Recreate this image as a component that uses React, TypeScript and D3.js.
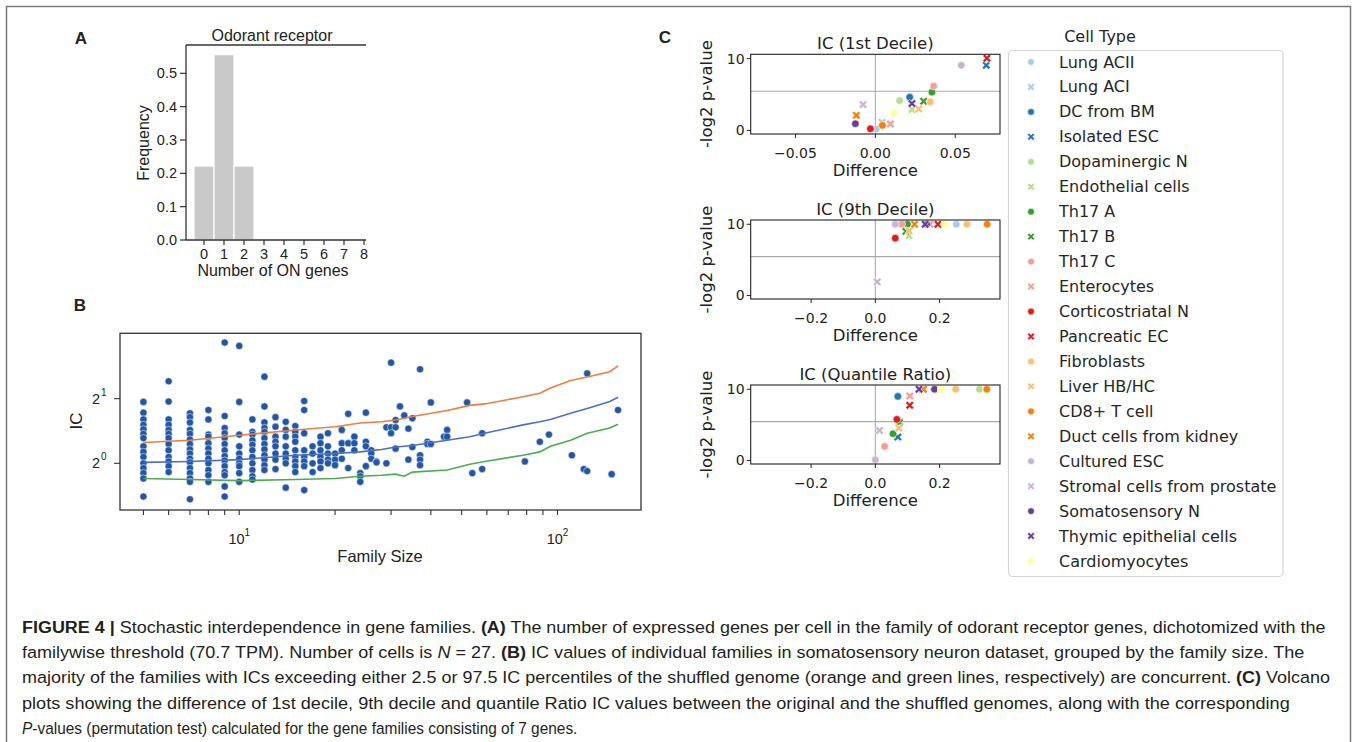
import React, { useLayoutEffect, useRef } from 'react';
import * as d3 from 'd3';

const W = 1357;
const H = 742;

// ---------------- Panel A data ----------------
const onGenes = [0, 1, 2, 3, 4, 5, 6, 7, 8];
const onFreq = [0.222, 0.556, 0.222, 0, 0, 0, 0, 0, 0];
const freqTicks = [0, 0.1, 0.2, 0.3, 0.4, 0.5];

// ---------------- Panel B data ----------------
const famSizes = [5, 6, 7, 8, 9, 10, 11, 12, 13, 14, 15, 16, 17, 18, 19, 20, 21, 22, 23, 24, 25, 26, 27, 29, 30, 31, 32, 33, 34, 35, 37, 39, 40, 44, 45, 52, 54, 58, 79, 88, 94, 111, 121, 124, 148, 155];
const famIC = [
  [1.93, 1.72, 1.6, 1.51, 1.44, 1.37, 1.31, 1.2, 1.13, 1.07, 1.0, 0.95, 0.9, 0.85, 0.7],
  [2.41, 1.94, 1.6, 1.51, 1.43, 1.37, 1.31, 1.23, 1.15, 1.07, 1.02, 0.97, 0.91],
  [1.71, 1.64, 1.55, 1.43, 1.37, 1.29, 1.23, 1.16, 1.11, 1.05, 1.01, 0.95, 0.9, 0.85, 0.82, 0.68],
  [1.77, 1.6, 1.36, 1.33, 1.24, 1.17, 1.11, 1.05, 1.0, 0.93, 0.88, 0.82],
  [3.65, 1.66, 1.46, 1.38, 1.31, 1.23, 1.15, 1.08, 1.03, 0.97, 0.91, 0.88, 0.78, 0.7],
  [3.52, 1.93, 1.36, 1.2, 1.11, 1.05, 1.0, 0.97, 0.9, 0.82],
  [1.6, 1.4, 1.36, 1.28, 1.22, 1.15, 1.07, 1.0, 0.93, 0.87, 0.84],
  [2.53, 1.84, 1.55, 1.46, 1.4, 1.31, 1.23, 1.16, 1.09, 1.04, 0.98, 0.93],
  [1.64, 1.48, 1.33, 1.26, 1.2, 1.11, 1.04, 0.94],
  [1.56, 1.43, 1.33, 1.2, 1.11, 1.05, 1.0, 0.77],
  [1.49, 1.4, 1.33, 1.26, 1.15, 1.07, 1.02, 0.97, 0.91],
  [1.95, 1.77, 1.38, 1.15, 1.07, 1.02, 0.97, 0.75],
  [1.2, 1.11, 1.0, 0.91],
  [1.33, 1.24, 1.15, 1.07, 1.02, 0.95],
  [1.38, 1.2, 1.11, 1.04, 1.0],
  [1.11, 1.04, 0.98],
  [1.43, 1.24, 1.15, 1.05],
  [1.7, 1.24, 0.95],
  [1.33, 1.24, 1.15],
  [0.9, 0.87, 0.82],
  [1.72, 1.26, 1.2, 0.97],
  [1.15, 1.11, 1.05],
  [1.02, 1.01],
  [1.47, 1.0],
  [2.94, 1.47, 1.38],
  [1.59, 1.47, 1.17],
  [1.84],
  [1.67],
  [1.45, 1.04],
  [1.62, 1.19],
  [2.74, 1.09, 1.04, 0.98],
  [1.26, 1.23],
  [1.92, 1.23],
  [1.33],
  [1.43, 1.33],
  [1.92],
  [0.9],
  [1.38, 0.94],
  [1.02],
  [1.26],
  [1.36],
  [1.09],
  [0.94],
  [2.62, 0.92],
  [0.89],
  [1.77],
];
const pctSizes = [5, 7, 10, 15, 20, 24, 28, 31, 33, 35, 45, 53, 59, 78, 88, 95, 110, 124, 146, 155];
const pct975 = [1.25, 1.28, 1.35, 1.43, 1.48, 1.54, 1.56, 1.59, 1.62, 1.65, 1.76, 1.86, 1.89, 2.04, 2.12, 2.24, 2.43, 2.52, 2.67, 2.84];
const pct50 = [1.01, 1.02, 1.04, 1.09, 1.11, 1.13, 1.16, 1.19, 1.2, 1.21, 1.28, 1.33, 1.38, 1.51, 1.56, 1.6, 1.71, 1.8, 1.94, 2.03];
const pct025 = [0.85, 0.84, 0.83, 0.84, 0.85, 0.87, 0.88, 0.89, 0.87, 0.91, 0.93, 0.99, 1.02, 1.09, 1.13, 1.2, 1.28, 1.38, 1.46, 1.52];
const sizeTicks = [5, 6, 7, 8, 9, 10, 20, 30, 40, 50, 60, 70, 80, 90, 100];
const sizeLabels = [10, 100];
const icTicks = [1, 2];

// ---------------- Panel C data ----------------
const cellTypes = ['Lung ACII', 'Lung ACI', 'DC from BM', 'Isolated ESC', 'Dopaminergic N', 'Endothelial cells', 'Th17 A', 'Th17 B', 'Th17 C', 'Enterocytes', 'Corticostriatal N', 'Pancreatic EC', 'Fibroblasts', 'Liver HB/HC', 'CD8+ T cell', 'Duct cells from kidney', 'Cultured ESC', 'Stromal cells from prostate', 'Somatosensory N', 'Thymic epithelial cells', 'Cardiomyocytes'];
const cellColors = ['#a6cee3', '#a6cee3', '#1f78b4', '#1f78b4', '#b2df8a', '#b2df8a', '#33a02c', '#33a02c', '#fb9a99', '#fb9a99', '#e31a1c', '#e31a1c', '#fdbf6f', '#fdbf6f', '#ff7f00', '#ff7f00', '#cab2d6', '#cab2d6', '#6a3d9a', '#6a3d9a', '#ffff99'];
const cellMarkers = ['o', 'x', 'o', 'x', 'o', 'x', 'o', 'x', 'o', 'x', 'o', 'x', 'o', 'x', 'o', 'x', 'o', 'x', 'o', 'x', 'o'];

const d1Diff = [0.0006, 0.0042, 0.0215, 0.0694, 0.0152, 0.0229, 0.0354, 0.0302, 0.0365, 0.0094, -0.0031, 0.0698, 0.0344, 0.0271, 0.0044, -0.0119, 0.0538, -0.0077, -0.0125, 0.0229, 0.0117];
const d1LogP = [0.19, 1.12, 4.63, 9.07, 4.16, 2.9, 5.33, 4.07, 6.17, 0.89, 0.23, 10.05, 3.97, 2.99, 0.7, 2.1, 9.07, 3.6, 0.93, 3.74, 2.43];
const d9Diff = [0.252, 0.171, 0.091, 0.094, 0.078, 0.105, 0.1, 0.095, 0.082, 0.17, 0.062, 0.195, 0.285, 0.105, 0.348, 0.122, 0.062, 0.006, 0.16, 0.155, 0.215];
const d9LogP = [10, 10, 10, 10, 10, 8.4, 10, 9.0, 10, 10, 8.05, 10, 10, 9.07, 10, 10, 10, 1.9, 10, 10, 10];
const qrDiff = [0.19, 0.145, 0.07, 0.07, 0.324, 0.076, 0.055, 0.075, 0.029, 0.107, 0.067, 0.107, 0.25, 0.073, 0.347, 0.15, 0.0, 0.013, 0.184, 0.136, 0.205];
const qrLogP = [10, 10, 9.0, 3.29, 10, 5.5, 3.76, 5.3, 1.97, 9.06, 5.77, 7.75, 10, 4.55, 10, 10, 0.1, 4.2, 10, 10, 10];
const pThreshold = 5.45;
const d1Ticks = [-0.05, 0, 0.05];
const d1TickLabels = ['\u22120.05', '0.00', '0.05'];
const wideTicks = [-0.2, 0, 0.2];
const wideTickLabels = ['\u22120.2', '0.0', '0.2'];
const logpTicks = [0, 10];

// ---------------- Caption ----------------
type Seg = { t: string; b?: boolean; i?: boolean };
const captionLines: Seg[][] = [
  [{ t: 'FIGURE 4 |', b: true }, { t: ' Stochastic interdependence in gene families. ' }, { t: '(A)', b: true }, { t: ' The number of expressed genes per cell in the family of odorant receptor genes, dichotomized with the' }],
  [{ t: 'familywise threshold (70.7 TPM). Number of cells is ' }, { t: 'N', i: true }, { t: ' = 27. ' }, { t: '(B)', b: true }, { t: ' IC values of individual families in somatosensory neuron dataset, grouped by the family size. The' }],
  [{ t: 'majority of the families with ICs exceeding either 2.5 or 97.5 IC percentiles of the shuffled genome (orange and green lines, respectively) are concurrent. ' }, { t: '(C)', b: true }, { t: ' Volcano' }],
  [{ t: 'plots showing the difference of 1st decile, 9th decile and quantile Ratio IC values between the original and the shuffled genomes, along with the corresponding' }],
  [{ t: 'P', i: true }, { t: '-values (permutation test) calculated for the gene families consisting of 7 genes.' }],
];
const captionEnds = [1327, 1305, 1331, 1291, 578];

const ARIAL = "'Liberation Sans', Arial, Helvetica, sans-serif";
const DEJAVU = "'DejaVu Sans', sans-serif";

function xMarkerPath(L: number, w: number) {
  const pts = [[-w, -L], [w, -L], [w, -w], [L, -w], [L, w], [w, w], [w, L], [-w, L], [-w, w], [-L, w], [-L, -w], [-w, -w]];
  const c = Math.SQRT1_2;
  return 'M' + pts.map(([a, b]) => `${((a - b) * c).toFixed(2)},${((a + b) * c).toFixed(2)}`).join('L') + 'Z';
}
const X_PATH = xMarkerPath(4.6, 1.35);
const X_PATH_SMALL = xMarkerPath(4.0, 1.2);

function Marker({ x, y, color, kind, small }: { x: number; y: number; color: string; kind: string; small?: boolean }) {
  if (kind === 'o') {
    return <circle cx={x} cy={y} r={small ? 3.4 : 3.8} fill={color} stroke="#fff" strokeWidth={0.6} />;
  }
  return <path d={small ? X_PATH_SMALL : X_PATH} transform={`translate(${x},${y})`} fill={color} stroke="#fff" strokeWidth={0.6} />;
}

function FitText({ x, y, width, segs }: { x: number; y: number; width: number; segs: Seg[] }) {
  const ref = useRef<SVGTextElement>(null);
  useLayoutEffect(() => {
    const el = ref.current;
    if (!el) return;
    const w = el.getBBox().width;
    if (w > 0) el.setAttribute('transform', `translate(${x},${y}) scale(${width / w},1)`);
  }, [x, y, width]);
  return (
    <text ref={ref} transform={`translate(${x},${y})`} fontFamily={ARIAL} fontSize={17} fill="#231f20" style={{ whiteSpace: 'pre' }}>
      {segs.map((s, i) => (
        <tspan key={i} fontWeight={s.b ? 'bold' : 'normal'} fontStyle={s.i ? 'italic' : 'normal'}>{s.t}</tspan>
      ))}
    </text>
  );
}

function PanelA() {
  const x = d3.scaleLinear().domain([-0.9, 8.1]).range([186, 366]);
  const y = d3.scaleLinear().domain([0, 0.585]).range([240, 45]);
  return (
    <g fontFamily={ARIAL} fill="#222">
      <text x={81} y={44} fontSize={17} fontWeight="bold" textAnchor="middle">A</text>
      <text x={272} y={41} fontSize={16} textAnchor="middle">Odorant receptor</text>
      {onGenes.map((g, i) => (
        <rect key={g} x={x(g - 0.5)} y={y(onFreq[i])} width={x(g + 0.5) - x(g - 0.5)} height={y(0) - y(onFreq[i])} fill="#c9c9c9" stroke="#fff" strokeWidth={1.2} />
      ))}
      <line x1={186} x2={186} y1={45} y2={240} stroke="#333" strokeWidth={1.3} />
      <line x1={186} x2={366} y1={240} y2={240} stroke="#333" strokeWidth={1.3} />
      <line x1={186} x2={366} y1={45} y2={45} stroke="#333" strokeWidth={1.3} />
      {freqTicks.map((t) => (
        <g key={t}>
          <line x1={180} x2={186} y1={y(t)} y2={y(t)} stroke="#333" strokeWidth={1.2} />
          <text x={177} y={y(t) + 5} fontSize={14.5} textAnchor="end">{t.toFixed(1)}</text>
        </g>
      ))}
      {onGenes.map((g) => (
        <g key={g}>
          <line x1={x(g)} x2={x(g)} y1={240} y2={245} stroke="#333" strokeWidth={1.2} />
          <text x={x(g)} y={259} fontSize={14.5} textAnchor="middle">{g}</text>
        </g>
      ))}
      <text x={273} y={276} fontSize={16} textAnchor="middle">Number of ON genes</text>
      <text transform="translate(149,143) rotate(-90)" fontSize={16} textAnchor="middle">Frequency</text>
    </g>
  );
}

function PanelB() {
  const x = d3.scaleLog().domain([4.22, 183]).range([120, 641]);
  const y = d3.scaleLog().base(2).domain([0.606, 4.03]).range([510, 333.3]);
  const pts: { s: number; v: number }[] = [];
  famSizes.forEach((s, i) => famIC[i].forEach((v) => pts.push({ s, v })));
  const lineGen = (vals: number[]) =>
    d3.line<number>().x((_, i) => x(pctSizes[i])).y((v) => y(v))(vals) || '';
  return (
    <g fontFamily={ARIAL} fill="#222">
      <text x={80} y={311} fontSize={17} fontWeight="bold" textAnchor="middle">B</text>
      {pts.map((p, i) => (
        <circle key={i} cx={x(p.s)} cy={y(p.v)} r={3.6} fill="#2256a6" stroke="#fff" strokeWidth={0.5} />
      ))}
      <path d={lineGen(pct975)} fill="none" stroke="#ef7d3c" strokeWidth={1.6} />
      <path d={lineGen(pct50)} fill="none" stroke="#4a72c4" strokeWidth={1.6} />
      <path d={lineGen(pct025)} fill="none" stroke="#4cad50" strokeWidth={1.6} />
      <rect x={120} y={333.3} width={521} height={176.7} fill="none" stroke="#333" strokeWidth={1.3} />
      {sizeTicks.map((t) => (
        <line key={t} x1={x(t)} x2={x(t)} y1={510} y2={515} stroke="#333" strokeWidth={1.1} />
      ))}
      {sizeLabels.map((t) => (
        <text key={t} x={x(t)} y={544} fontSize={14.5} textAnchor="middle">
          10<tspan fontSize={10} dy={-8}>{Math.round(Math.log10(t))}</tspan>
        </text>
      ))}
      {icTicks.map((t) => (
        <g key={t}>
          <line x1={114} x2={120} y1={y(t)} y2={y(t)} stroke="#333" strokeWidth={1.1} />
          <text x={100} y={y(t) + 5} fontSize={14.5} textAnchor="end">2</text>
          <text x={101} y={y(t) - 3} fontSize={10} textAnchor="start">{Math.round(Math.log2(t))}</text>
        </g>
      ))}
      <text x={380} y={562} fontSize={16.5} textAnchor="middle">Family Size</text>
      <text transform="translate(82,421) rotate(-90)" fontSize={17} textAnchor="middle">IC</text>
    </g>
  );
}

function Volcano({ top, bottom, title, xDomain, ticks, tickLabels, diffs, logps }: {
  top: number; bottom: number; title: string; xDomain: [number, number]; ticks: number[]; tickLabels: string[]; diffs: number[]; logps: number[];
}) {
  const left = 750.7;
  const right = 1000;
  const x = d3.scaleLinear().domain(xDomain).range([left, right]);
  const y = d3.scaleLinear().domain([-0.5, 10.6]).range([bottom, top]);
  return (
    <g fontFamily={DEJAVU} fill="#222">
      <text x={(left + right) / 2} y={top - 5} fontSize={16.5} textAnchor="middle">{title}</text>
      <line x1={x(0)} x2={x(0)} y1={top} y2={bottom} stroke="#aaa" strokeWidth={1.1} />
      <line x1={left} x2={right} y1={y(pThreshold)} y2={y(pThreshold)} stroke="#aaa" strokeWidth={1.1} />
      {cellTypes.map((c, i) => (
        <Marker key={c} x={x(diffs[i])} y={y(logps[i])} color={cellColors[i]} kind={cellMarkers[i]} />
      ))}
      <rect x={left} y={top} width={right - left} height={bottom - top} fill="none" stroke="#222" strokeWidth={1.1} />
      {ticks.map((t, i) => (
        <g key={t}>
          <line x1={x(t)} x2={x(t)} y1={bottom} y2={bottom + 4} stroke="#222" strokeWidth={1} />
          <text x={x(t)} y={bottom + 19} fontSize={14} textAnchor="middle" dominantBaseline="central">{tickLabels[i]}</text>
        </g>
      ))}
      {logpTicks.map((t) => (
        <g key={t}>
          <line x1={left - 4} x2={left} y1={y(t)} y2={y(t)} stroke="#222" strokeWidth={1} />
          <text x={left - 6} y={y(t)} fontSize={14} textAnchor="end" dominantBaseline="central">{t}</text>
        </g>
      ))}
      <text x={(left + right) / 2} y={bottom + 36} fontSize={16.5} textAnchor="middle" dominantBaseline="central">Difference</text>
      <text transform={`translate(706,${(top + bottom) / 2}) rotate(-90)`} fontSize={16.5} textAnchor="middle" dominantBaseline="central">-log2 p-value</text>
    </g>
  );
}

function Legend() {
  const rowY = (i: number) => 62 + i * 24.95;
  return (
    <g fontFamily={DEJAVU} fill="#262626">
      <text x={1100} y={36} fontSize={16} textAnchor="middle" dominantBaseline="central">Cell Type</text>
      <rect x={1008.5} y={50.5} width={274.5} height={526} rx={4} fill="#fff" stroke="#d6d6d6" strokeWidth={1.2} />
      {cellTypes.map((c, i) => (
        <g key={c}>
          <Marker x={1031} y={rowY(i)} color={cellColors[i]} kind={cellMarkers[i]} small />
          <text x={1059} y={rowY(i)} fontSize={16} dominantBaseline="central">{c}</text>
        </g>
      ))}
    </g>
  );
}

export default function App() {
  return (
    <svg width={W} height={H} viewBox={`0 0 ${W} ${H}`} style={{ position: 'absolute', left: 0, top: 0, display: 'block', background: '#fff' }}>
      <rect x={0} y={0} width={W} height={H} fill="#fff" />
      <rect x={6.5} y={6.5} width={1344} height={760} fill="none" stroke="#7a7a7a" strokeWidth={1.5} />
      <PanelA />
      <PanelB />
      <text x={665} y={43} fontFamily={ARIAL} fontSize={17} fontWeight="bold" textAnchor="middle" fill="#222">C</text>
      <Volcano top={54.3} bottom={134} title="IC (1st Decile)" xDomain={[-0.078, 0.078]} ticks={d1Ticks} tickLabels={d1TickLabels} diffs={d1Diff} logps={d1LogP} />
      <Volcano top={220} bottom={299} title="IC (9th Decile)" xDomain={[-0.388, 0.388]} ticks={wideTicks} tickLabels={wideTickLabels} diffs={d9Diff} logps={d9LogP} />
      <Volcano top={385} bottom={464} title="IC (Quantile Ratio)" xDomain={[-0.388, 0.388]} ticks={wideTicks} tickLabels={wideTickLabels} diffs={qrDiff} logps={qrLogP} />
      <Legend />
      {captionLines.map((segs, i) => (
        <FitText key={i} x={22} y={633 + i * 25.2} width={captionEnds[i] - 22} segs={segs} />
      ))}
    </svg>
  );
}
